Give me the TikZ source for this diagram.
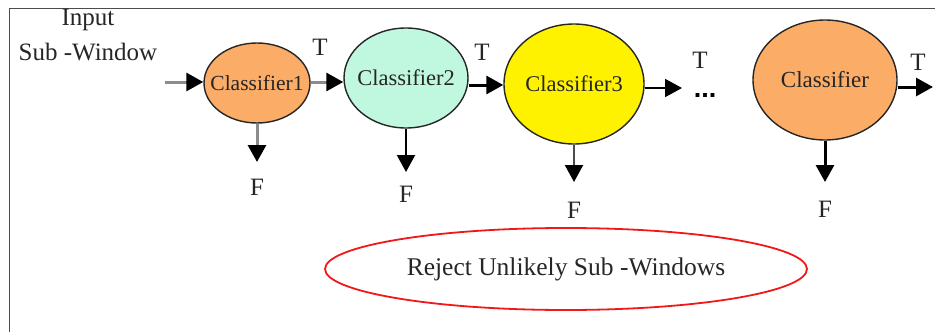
\documentclass[tikz,border=0pt]{standalone}
\usepackage{fontspec}
\setmainfont{Liberation Serif}
\newfontfamily\dotfont{Liberation Sans}
\usetikzlibrary{shapes.geometric,arrows.meta}
\definecolor{corange}{HTML}{FBAC66}
\definecolor{cmint}{HTML}{BFF7DF}
\definecolor{cyellow}{HTML}{FFF200}
\definecolor{cred}{HTML}{F01818}
\tikzset{
  clf/.style={ellipse, draw=black!85, line width=1.4pt, inner sep=0pt, text=black!85},
  lbl/.style={inner sep=0pt, text=black!85, font=\fontsize{25}{27}\selectfont},
  arr/.style={line width=3pt, -{Triangle[length=17pt,width=18pt,color=black]}},
  garr/.style={arr, draw=black!45},
}
\newcommand{\ctext}[1]{\makebox[0pt]{#1}}
\begin{document}
\begin{tikzpicture}[x=1pt,y=-1pt]
\useasboundingbox (0,0) rectangle (935,332);
\draw[black!70, line width=1pt] (9,332) -- (9,8) -- (935,8);
% labels
\node[lbl] (inp) at (88,20) {Input};
\node[lbl] (sub) at (88,52) {Sub -Window};
% classifiers
\node[clf, fill=corange, minimum width=106pt, minimum height=80pt, font=\fontsize{21.5}{23}\selectfont] (c1) at (257,83) {\ctext{Classifier1}};
\node[clf, fill=cmint, minimum width=124pt, minimum height=100pt, font=\fontsize{22.5}{24}\selectfont] (c2) at (406,78) {\ctext{Classifier2}};
\node[clf, fill=cyellow, minimum width=140pt, minimum height=120pt, font=\fontsize{22.5}{24}\selectfont] (c3) at (574,84) {\ctext{Classifier3}};
\node[clf, fill=corange, minimum width=144pt, minimum height=120pt, font=\fontsize{23}{25}\selectfont] (c4) at (825,80) {\ctext{Classifier}};
% T labels
\node[lbl] (t1) at (320,47) {T};
\node[lbl] (t2) at (482,52) {T};
\node[lbl] (t3) at (700,60) {T};
\node[lbl] (t4) at (918,62) {T};
\node[inner sep=0pt, anchor=base, font=\dotfont\fontsize{27}{27}\selectfont\bfseries] (dots) at (705,97) {...};
% F labels
\node[lbl] (f1) at (257,187) {F};
\node[lbl] (f2) at (406,194) {F};
\node[lbl] (f3) at (574,210) {F};
\node[lbl] (f4) at (825,209) {F};
% coordinates
\coordinate (in) at (165,82);
\coordinate (out3) at (682,88);
\coordinate (out4) at (933,87);
\coordinate (d1) at (257,162);
\coordinate (d2) at (406,172);
\coordinate (d3) at (574,182);
\coordinate (d4) at (825,182);
% connectors
\draw[garr] (in) -- (in -| c1.west);
\draw[garr] (c1.east |- 0,82) -- (c2.west |- 0,82);
\draw[arr] (c2.east |- 0,85) -- (c3.west |- 0,85);
\draw[arr, line width=2pt] (c3.east |- out3) -- (out3);
\draw[arr] (c4.east |- out4) -- (out4);
\draw[garr] (c1.south) -- (c1.south |- d1);
\draw[arr, line width=2.2pt] (c2.south) -- (c2.south |- d2);
\draw[arr, line width=2pt, draw=black!70] (c3.south) -- (c3.south |- d3);
\draw[arr] (c4.south) -- (c4.south |- d4);
% reject
\node[ellipse, draw=cred, line width=1.8pt, minimum width=482pt, minimum height=82pt, inner sep=0pt, text=black!85, font=\fontsize{25.5}{27}\selectfont] (rej) at (566,269) {\ctext{Reject Unlikely Sub -Windows}};
\end{tikzpicture}
\end{document}
